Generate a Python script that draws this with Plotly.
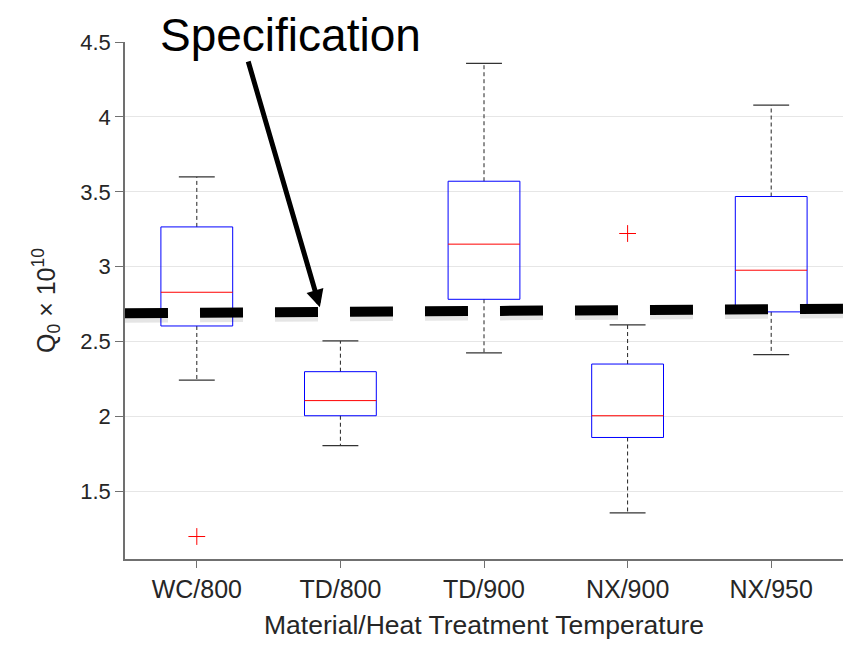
import plotly.graph_objects as go

# ---------------- data ----------------
categories = ["WC/800", "TD/800", "TD/900", "NX/900", "NX/950"]
upper_whisker = [3.60, 2.505, 4.358, 2.612, 4.079]
q3_values     = [3.266, 2.300, 3.571, 2.351, 3.469]
medians       = [2.830, 2.107, 3.151, 2.006, 2.977]
q1_values     = [2.605, 2.006, 2.783, 1.861, 2.699]
lower_whisker = [2.244, 1.806, 2.425, 1.358, 2.414]
outlier_cat   = ["WC/800", "NX/900"]
outlier_vals  = [1.20, 3.222]
spec_x        = [0.5, 5.5]
spec_y        = [2.69, 2.72]
y_ticks       = [1.5, 2, 2.5, 3, 3.5, 4, 4.5]
y_tick_text   = ["1.5", "2", "2.5", "3", "3.5", "4", "4.5"]

BOX_W = 0.5
CAP_W = 0.25
FONT = "Liberation Sans, Arial, Helvetica, sans-serif"

xpos = {c: i + 1 for i, c in enumerate(categories)}

box_x, box_y, med_x, med_y = [], [], [], []
wh_x, wh_y, cap_x, cap_y = [], [], [], []
for c, hi, q3, md, q1, lo in zip(categories, upper_whisker, q3_values, medians, q1_values, lower_whisker):
    xc = xpos[c]
    x0, x1 = xc - BOX_W / 2, xc + BOX_W / 2
    box_x += [x0, x1, x1, x0, x0, None]
    box_y += [q1, q1, q3, q3, q1, None]
    med_x += [x0, x1, None]
    med_y += [md, md, None]
    wh_x += [xc, xc, None, xc, xc, None]
    wh_y += [q3, hi, None, q1, lo, None]
    cap_x += [xc - CAP_W / 2, xc + CAP_W / 2, None, xc - CAP_W / 2, xc + CAP_W / 2, None]
    cap_y += [hi, hi, None, lo, lo, None]

fig = go.Figure()
fig.add_trace(go.Scatter(x=wh_x, y=wh_y, mode="lines",
                         line=dict(color="#222222", width=1, dash="4px,3px"),
                         hoverinfo="skip", showlegend=False))
fig.add_trace(go.Scatter(x=cap_x, y=cap_y, mode="lines",
                         line=dict(color="#333333", width=1.2),
                         hoverinfo="skip", showlegend=False))
fig.add_trace(go.Scatter(x=box_x, y=box_y, mode="lines",
                         line=dict(color="#0000ff", width=1),
                         hoverinfo="skip", showlegend=False))
fig.add_trace(go.Scatter(x=med_x, y=med_y, mode="lines",
                         line=dict(color="#ff0000", width=1),
                         hoverinfo="skip", showlegend=False))
fig.add_trace(go.Scatter(x=[xpos[c] for c in outlier_cat], y=outlier_vals, mode="markers",
                         marker=dict(symbol="cross-thin", size=12, color="#ff0000",
                                     line=dict(color="#ff0000", width=1)),
                         hoverinfo="skip", showlegend=False))
# spec line shadow + line
fig.add_trace(go.Scatter(x=spec_x, y=[v - 0.02 for v in spec_y], mode="lines",
                         line=dict(color="rgba(0,0,0,0.10)", width=13, dash="43px,32px"),
                         hoverinfo="skip", showlegend=False))
fig.add_trace(go.Scatter(x=spec_x, y=spec_y, mode="lines",
                         line=dict(color="#000000", width=10, dash="43px,32px"),
                         hoverinfo="skip", showlegend=False))

# arrow from label to the spec line
fig.add_annotation(x=1.857, y=2.73, ax=1.355, ay=4.38, xref="x", yref="y",
                   axref="x", ayref="y", text="", showarrow=True,
                   arrowhead=2, arrowsize=0.7, arrowwidth=5, arrowcolor="#000000")
fig.add_annotation(x=0.23, y=1.013, xref="paper", yref="paper", text="Specification",
                   showarrow=False, xanchor="center", yanchor="middle", borderpad=0,
                   font=dict(family=FONT, size=46, color="#000000"))

# page body has an 8px margin: size and margins compensate for it
fig.update_layout(
    width=843, height=637,
    margin=dict(l=117, r=8, t=34, b=86),
    paper_bgcolor="white", plot_bgcolor="white",
    font=dict(family=FONT, color="#262626"),
    showlegend=False,
)
fig.update_xaxes(
    range=[0.5, 5.5], tickvals=[xpos[c] for c in categories], ticktext=categories,
    showgrid=False, zeroline=False, showline=True, linecolor="#707070", linewidth=1.5,
    ticks="outside", ticklen=7, tickcolor="#707070",
    tickfont=dict(family=FONT, size=25, color="#262626"),
    title=dict(text="Material/Heat Treatment Temperature",
               font=dict(family=FONT, size=26.5, color="#262626"), standoff=14),
)
fig.update_yaxes(
    range=[1.05, 4.5], tickvals=y_ticks, ticktext=y_tick_text,
    showgrid=True, gridcolor="#e6e6e6", gridwidth=1, zeroline=False,
    showline=True, linecolor="#707070", linewidth=1.5,
    ticks="outside", ticklen=8, tickcolor="#707070",
    tickfont=dict(family=FONT, size=22, color="#262626"),
    title=dict(text="Q<sub>0</sub> × 10<sup>10</sup>",
               font=dict(family=FONT, size=25, color="#262626"), standoff=18),
)

fig.write_html("out.html")
